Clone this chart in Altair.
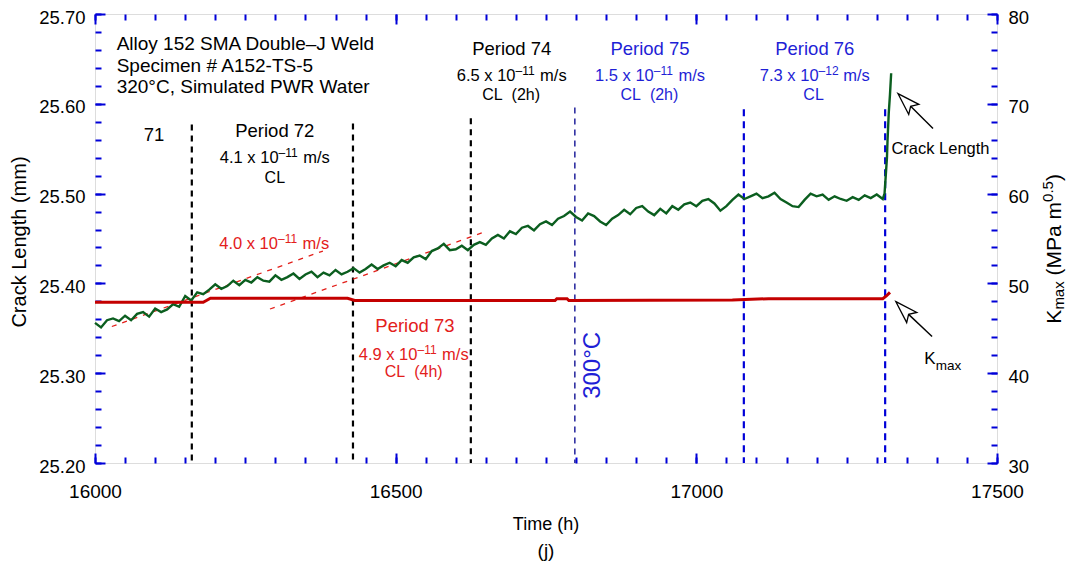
import altair as alt
import pandas as pd

# ---------------- data ----------------
# crack length samples, every 10 h from 16000 h to 17310 h, then the final jump
crack_time_grid = list(range(16000, 17311, 10))
crack_time_jump = [17313, 17315, 17317, 17318, 17320, 17322, 17324]
crack_mm_grid = [
    25.356, 25.351, 25.359, 25.361, 25.358, 25.364, 25.359, 25.366, 25.368, 25.363,  # 16000-16090
    25.372, 25.368, 25.371, 25.377, 25.374, 25.386, 25.381, 25.390, 25.388, 25.393,  # 16100-16190
    25.399, 25.394, 25.397, 25.403, 25.398, 25.404, 25.401, 25.407, 25.403, 25.402,  # 16200-16290
    25.409, 25.404, 25.407, 25.411, 25.405, 25.410, 25.413, 25.407, 25.412, 25.409,  # 16300-16390
    25.415, 25.410, 25.413, 25.417, 25.412, 25.416, 25.421, 25.416, 25.420, 25.423,  # 16400-16490
    25.419, 25.426, 25.423, 25.429, 25.431, 25.427, 25.436, 25.439, 25.444, 25.437,  # 16500-16590
    25.438, 25.442, 25.437, 25.443, 25.446, 25.443, 25.450, 25.454, 25.450, 25.458,  # 16600-16690
    25.455, 25.462, 25.464, 25.459, 25.466, 25.469, 25.465, 25.472, 25.475, 25.480,  # 16700-16790
    25.474, 25.470, 25.478, 25.475, 25.469, 25.465, 25.472, 25.476, 25.482, 25.477,  # 16800-16890
    25.484, 25.486, 25.480, 25.476, 25.483, 25.478, 25.486, 25.482, 25.488, 25.490,  # 16900-16990
    25.486, 25.492, 25.494, 25.489, 25.481, 25.486, 25.493, 25.499, 25.494, 25.497,  # 17000-17090
    25.500, 25.495, 25.497, 25.501, 25.494, 25.490, 25.486, 25.485, 25.493, 25.500,  # 17100-17190
    25.497, 25.499, 25.493, 25.497, 25.494, 25.492, 25.496, 25.493, 25.498, 25.495,  # 17200-17290
    25.499, 25.494,                                                                  # 17300-17310
]
crack_mm_jump = [25.500, 25.520, 25.540, 25.560, 25.590, 25.610, 25.634]

kmax_time = [16000, 16180, 16192, 16420, 16432, 16765, 16768, 16785, 16788, 17060, 17120, 17200, 17310, 17316, 17322]
kmax_val = [47.9, 47.9, 48.35, 48.35, 48.1, 48.1, 48.3, 48.3, 48.1, 48.15, 48.3, 48.3, 48.3, 48.6, 49.0]

# period boundaries (h) and the crack length where each dashed line starts
bounds_black = [16161, 16429, 16625]
bounds_black_top = [25.577, 25.578, 25.584]
bounds_thin = [16798]
bounds_thin_top = [25.596]
bounds_blue = [17079, 17314]
bounds_blue_top = [25.594, 25.594]

# red dashed fitted-rate lines (two parallel segments)
fit_seg = ["a", "a", "b", "b"]
fit_time = [16028, 16379, 16291, 16652]
fit_mm = [25.352, 25.436, 25.3715, 25.4583]

# axis ticks
x_major = [16000, 16500, 17000, 17500]
x_minor = list(range(16000, 17501, 50))
v_major = [25.20, 25.30, 25.40, 25.50, 25.60, 25.70]
v_minor = [round(25.20 + 0.02 * i, 2) for i in range(26)]
k_major = [30, 40, 50, 60, 70, 80]
k_minor = list(range(30, 81, 2))

assert len(crack_time_grid) == len(crack_mm_grid)

# ---------------- styling ----------------
W, H = 902, 449
BLUE = "#0000d8"
GREEN = "#0b5e1f"
DKRED = "#c40000"
RED = "#e3201b"
TBLUE = "#1f1fd6"
FONT = "Liberation Sans"

xs = alt.Scale(domain=[16000, 17500], nice=False, zero=False)
vs = alt.Scale(domain=[25.20, 25.70], nice=False, zero=False)
ks = alt.Scale(domain=[30, 80], nice=False, zero=False)


def X(axis=None, field="t"):
    return alt.X(f"{field}:Q", scale=xs, axis=axis)


def YV(axis=None, field="v"):
    return alt.Y(f"{field}:Q", scale=vs, axis=axis)


def tick_axis(orient, offset, values, size):
    return alt.Axis(orient=orient, offset=offset, values=values, tickSize=size, ticks=True,
                    tickColor=BLUE, tickWidth=2, labels=False, domain=False, grid=False, title=None)


# ---------------- layers ----------------
crack_df = pd.DataFrame({"t": crack_time_grid + crack_time_jump, "v": crack_mm_grid + crack_mm_jump})
kmax_df = pd.DataFrame({"t": kmax_time, "k": kmax_val})

common_label = dict(ticks=False, tickSize=0, domain=False, grid=False, title=None, labelFlush=False,
                    labelOverlap=False, labelColor="black", labelFont=FONT)
x_label_axis = alt.Axis(orient="bottom", values=x_major, format="d", labelFontSize=19, labelPadding=19,
                        **common_label)
v_label_axis = alt.Axis(orient="left", values=v_major, format=".2f", labelFontSize=18.5, labelPadding=10,
                        labelOffset=3, **common_label)
k_label_axis = alt.Axis(orient="right", values=k_major, format="d", labelFontSize=18.5, labelPadding=11,
                        labelOffset=3, **common_label)

layers = []


def rules(ts, tops, color, width, dash):
    df = pd.DataFrame({"t": ts, "v": tops, "v2": [25.20] * len(ts)})
    return alt.Chart(df).mark_rule(color=color, strokeWidth=width, strokeDash=dash).encode(
        x=X(), y=YV(), y2=alt.Y2("v2:Q"))


layers.append(rules(bounds_black, bounds_black_top, "black", 2.2, [6, 5]))
layers.append(rules(bounds_thin, bounds_thin_top, "#00008c", 1.3, [6, 5]))
layers.append(rules(bounds_blue, bounds_blue_top, BLUE, 2.2, [7, 5]))

fit_df = pd.DataFrame({"seg": fit_seg, "t": fit_time, "v": fit_mm})
layers.append(alt.Chart(fit_df).mark_line(color=RED, strokeWidth=1.3, strokeDash=[5, 6]).encode(
    x=X(), y=YV(), detail="seg:N"))

layers.append(alt.Chart(crack_df).mark_line(color=GREEN, strokeWidth=2.4).encode(
    x=X(x_label_axis), y=YV(v_label_axis)))
layers.append(alt.Chart(kmax_df).mark_line(color=DKRED, strokeWidth=3).encode(
    x=X(), y=alt.Y("k:Q", scale=ks, axis=k_label_axis)))


def text_layer(rows, size, align="center", baseline="alphabetic", dx=0, dy=0, angle=0):
    df = pd.DataFrame(rows, columns=["t", "v", "text", "c"])
    return alt.Chart(df).mark_text(align=align, baseline=baseline, dx=dx, dy=dy, angle=angle,
                                   fontSize=size, font=FONT, clip=False).encode(
        x=X(), y=YV(), text="text:N", color=alt.Color("c:N", scale=None))


NB = "\u00a0"
# header block
layers.append(text_layer([
    (16036, 25.6598, "Alloy 152 SMA Double\u2013J Weld", "black"),
    (16036, 25.6357, "Specimen # A152-TS-5", "black"),
    (16036, 25.6117, "320\u00b0C, Simulated PWR Water", "black"),
], 19, align="left"))
# period names
layers.append(text_layer([
    (16098, 25.5589, "71", "black"),
    (16299, 25.5629, "Period 72", "black"),
    (16693, 25.6542, "Period 74", "black"),
    (16923, 25.6542, "Period 75", TBLUE),
    (17197, 25.6542, "Period 76", TBLUE),
    (16532, 25.3456, "Period 73", RED),
], 18.5))
# CL lines
layers.append(text_layer([
    (16299, 25.5119, "CL", "black"),
    (16692, 25.6043, f"CL{NB} (2h)", "black"),
    (16922, 25.6043, f"CL{NB} (2h)", TBLUE),
    (17195, 25.6043, "CL", TBLUE),
    (16530, 25.2953, f"CL{NB} (4h)", RED),
], 16))

# rate labels: "d.d x 10" + superscript exponent + "m/s"
rate_rows = [
    (16299, 25.534, "4.1 x 10", "\u201311", "black"),
    (16693, 25.6254, "6.5 x 10", "\u201311", "black"),
    (16923, 25.6254, "1.5 x 10", "\u201311", TBLUE),
    (17197, 25.6254, "7.3 x 10", "\u201312", TBLUE),
    (16298, 25.438, "4.0 x 10", "\u201311", RED),
    (16530, 25.3142, "4.9 x 10", "\u201311", RED),
]
F, FS = 16.5, 12
pre_w = 3.558 * F
sup_w = 1.668 * FS
gap_w = 0.278 * F
post_w = 1.611 * F
total_w = pre_w + sup_w + gap_w + post_w
dx_pre = -total_w / 2
dx_sup = dx_pre + pre_w
dx_post = dx_sup + sup_w + gap_w
layers.append(text_layer([(t, v, a, c) for t, v, a, b, c in rate_rows], F, align="left", dx=dx_pre))
layers.append(text_layer([(t, v, b, c) for t, v, a, b, c in rate_rows], FS, align="left", dx=dx_sup, dy=-6))
layers.append(text_layer([(t, v, "m/s", c) for t, v, a, b, c in rate_rows], F, align="left", dx=dx_post))

# 300°C
layers.append(text_layer([(16828, 25.3087, "300\u00b0C", TBLUE)], 24, baseline="middle", angle=270))

# Crack Length / Kmax labels
layers.append(text_layer([(17406, 25.544, "Crack Length", "black")], 16.5))
layers.append(text_layer([(17379, 25.3105, "K", "black")], 17, align="left"))
layers.append(text_layer([(17379, 25.3105, "max", "black")], 13.5, align="left", dx=11.5, dy=6))

# axis titles
layers.append(text_layer([(15875.3, 25.4461, "Crack Length (mm)", "black")], 20, baseline="middle", angle=270))
layers.append(text_layer([(16750, 25.1313, "Time (h)", "black")], 18, baseline="middle"))
layers.append(text_layer([(16750, 25.1024, "(j)", "black")], 19, baseline="middle"))

TF, TS = 21, 15
rt = (17606.4, 25.3552)
d_max = 0.667 * TF
d_unit = d_max + 1.889 * TS + 0.278 * TF
d_exp = d_unit + 3.5 * TF
d_close = d_exp + 1.39 * TS
layers.append(text_layer([(rt[0], rt[1], "K", "black")], TF, align="left", angle=270))
layers.append(text_layer([(rt[0], rt[1], "max", "black")], TS, align="left", angle=270, dx=d_max, dy=3))
layers.append(text_layer([(rt[0], rt[1], "(MPa m", "black")], TF, align="left", angle=270, dx=d_unit))
layers.append(text_layer([(rt[0], rt[1], "0.5", "black")], TS, align="left", angle=270, dx=d_exp, dy=-8))
layers.append(text_layer([(rt[0], rt[1], ")", "black")], TF, align="left", angle=270, dx=d_close))

# arrows
ARROW = "M0,-1L0.55,0.72L0,0.38L-0.55,0.72Z"
shaft_df = pd.DataFrame({"t": [17356.4, 17353.0], "v": [25.5972, 25.3655],
                         "t2": [17393.6, 17392.0], "v2": [25.5725, 25.3408]})
layers.append(alt.Chart(shaft_df).mark_rule(color="black", strokeWidth=1.4).encode(
    x=X(), x2=alt.X2("t2:Q"), y=YV(), y2=alt.Y2("v2:Q")))
head_df = pd.DataFrame({"t": [17350.6, 17347.2], "v": [25.6011, 25.3694]})
layers.append(alt.Chart(head_df).mark_point(shape=ARROW, filled=False, size=676, angle=315,
                                            color="black", strokeWidth=1.3, opacity=1).encode(
    x=X(), y=YV()))

# inward tick carriers
carrier_v = pd.DataFrame({"t": [16000], "v": [25.2]})
carrier_k = pd.DataFrame({"t": [16000], "k": [30]})
layers.append(alt.Chart(carrier_v).mark_point(opacity=0).encode(
    x=X(tick_axis("top", -H, x_major, 10)), y=YV(tick_axis("right", -W, v_major, 10))))
layers.append(alt.Chart(carrier_v).mark_point(opacity=0).encode(
    x=X(tick_axis("top", -H, x_minor, 6)), y=YV(tick_axis("right", -W, v_minor, 6))))
layers.append(alt.Chart(carrier_k).mark_point(opacity=0).encode(
    x=X(tick_axis("bottom", -H, x_major, 10)),
    y=alt.Y("k:Q", scale=ks, axis=tick_axis("left", -W, k_major, 10))))
layers.append(alt.Chart(carrier_k).mark_point(opacity=0).encode(
    x=X(tick_axis("bottom", -H, x_minor, 6)),
    y=alt.Y("k:Q", scale=ks, axis=tick_axis("left", -W, k_minor, 6))))

chart = alt.layer(*layers).resolve_scale(y="independent").resolve_axis(
    x="independent", y="independent"
).properties(
    width=W, height=H,
    autosize=alt.AutoSizeParams(type="none"),
    padding={"left": 87, "top": 6, "right": 70, "bottom": 104},
).configure_view(stroke=BLUE, strokeWidth=3).configure(font=FONT)

chart.save("out.html", embed_options={"renderer": "svg", "actions": False})
